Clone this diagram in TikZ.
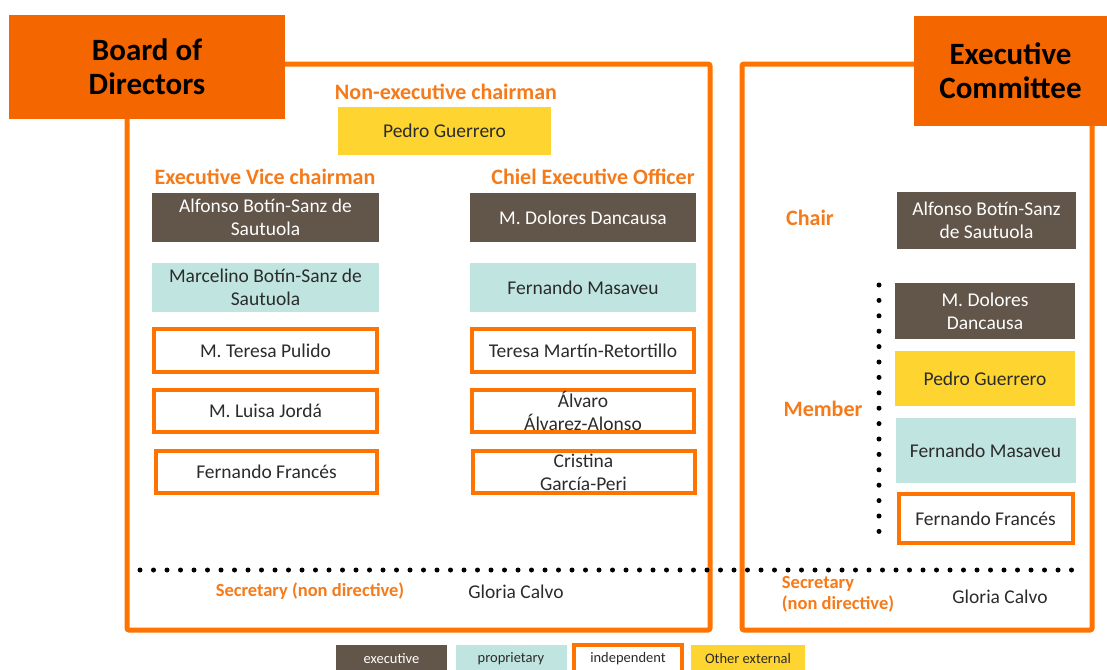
\documentclass[tikz,border=0pt]{standalone}
\usepackage{fontspec}
\setmainfont{Carlito}
\definecolor{hdorange}{HTML}{F46700}
\definecolor{frameorange}{HTML}{FF7300}
\definecolor{txtorange}{HTML}{F57A1A}
\definecolor{execbrown}{HTML}{625549}
\definecolor{propteal}{HTML}{C0E5E0}
\definecolor{extyellow}{HTML}{FED530}
\definecolor{nametext}{HTML}{2B2B2B}
\tikzset{
  namebox/.style={inner sep=0pt,align=center,font=\fontsize{19.5}{23}\selectfont},
  execbox/.style={namebox,fill=execbrown,text=white},
  propbox/.style={namebox,fill=propteal,text=nametext},
  extbox/.style={namebox,fill=extyellow,text=nametext},
  indepbox/.style={namebox,draw=frameorange,line width=4pt,fill=white,text=nametext},
  roletitle/.style={text=txtorange,font=\bfseries\fontsize{22}{24}\selectfont},
  sectitle/.style={text=txtorange,align=left,font=\bfseries\fontsize{18.5}{21}\selectfont},
  bodyheader/.style={fill=hdorange,inner sep=0pt,align=center,font=\bfseries\fontsize{31}{34}\selectfont},
  frame/.style={draw=frameorange,line width=5pt,rounded corners=2pt},
  legendbox/.style={inner sep=0pt,minimum width=111pt,minimum height=28pt,font=\fontsize{14.5}{16}\selectfont}
}
\begin{document}
\begin{tikzpicture}[x=1pt,y=-1pt]
  \useasboundingbox (0,0) rectangle (1107,669);
  \draw[frame] (127,64) rectangle (710,630);
  \draw[frame] (742,64) rectangle (1092,630);
  \node[bodyheader,minimum width=276pt,minimum height=104pt] (bod) at (147,67) {Board of\\Directors};
  \node[bodyheader,minimum width=193pt,minimum height=110pt] (ec) at (1010.5,71) {Executive\\Committee};

  \node[roletitle] (nonexec) at (446,92) {Non-executive chairman};
  \node[extbox,minimum width=213pt,minimum height=48pt] (pedro) at (444.5,131) {Pedro Guerrero};
  \node[roletitle] (vicech) at (265,177) {Executive Vice chairman};
  \node[roletitle] (ceo) at (593,177) {Chiel Executive Officer};

  \node[execbox,minimum width=227pt,minimum height=49pt] (alfonso) at (265.5,217.5) {Alfonso Botín-Sanz de\\Sautuola};
  \node[propbox,minimum width=227pt,minimum height=49pt] (marcelino) at (265.5,287.5) {Marcelino Botín-Sanz de\\Sautuola};
  \node[indepbox,minimum width=223pt,minimum height=43pt] (pulido) at (265.5,350.5) {M. Teresa Pulido};
  \node[indepbox,minimum width=223pt,minimum height=42pt] (jorda) at (265.5,411) {M. Luisa Jordá};
  \node[indepbox,minimum width=221pt,minimum height=42pt] (frances) at (266.5,472) {Fernando Francés};

  \node[execbox,minimum width=226pt,minimum height=49pt] (dolores) at (583,217.5) {M. Dolores Dancausa};
  \node[propbox,minimum width=226pt,minimum height=49pt] (masaveu) at (583,287.5) {Fernando Masaveu};
  \node[indepbox,minimum width=222pt,minimum height=43pt] (retortillo) at (583,350.5) {Teresa Martín-Retortillo};
  \node[indepbox,minimum width=222pt,minimum height=42pt] (alvaro) at (583,411) {Álvaro\\Álvarez-Alonso};
  \node[indepbox,minimum width=222pt,minimum height=42pt] (cristina) at (583.5,472) {Cristina\\García-Peri};

  \node[roletitle] (chair) at (810,218) {Chair};
  \node[execbox,minimum width=179pt,minimum height=57pt] (ecalfonso) at (986.5,220.5) {Alfonso Botín-Sanz\\de Sautuola};
  \node[roletitle] (member) at (823,409) {Member};
  \node[execbox,minimum width=180pt,minimum height=56pt] (ecdolores) at (985,311) {M. Dolores\\Dancausa};
  \node[extbox,minimum width=180pt,minimum height=55pt] (ecpedro) at (985,378.5) {Pedro Guerrero};
  \node[propbox,minimum width=180pt,minimum height=65pt] (ecmasaveu) at (985.5,450.5) {Fernando Masaveu};
  \node[indepbox,minimum width=174pt,minimum height=49pt] (ecfrances) at (985.5,518.5) {Fernando Francés};
  \draw[line width=5pt,line cap=round,dash pattern=on 0pt off 15.4pt] (879,285) -- (879,532);

  \draw[line width=5pt,line cap=round,dash pattern=on 0pt off 13.5pt] (140,570) -- (1085,570);
  \node[sectitle] (bodsec) at (310,591) {Secretary (non directive)};
  \node[namebox,text=nametext] (bodcalvo) at (516,592) {Gloria Calvo};
  \node[sectitle] (ecsec) at (838,594) {Secretary\\(non directive)};
  \node[namebox,text=nametext] (eccalvo) at (1000,597) {Gloria Calvo};

  \node[legendbox,fill=execbrown,text=white] (lgexec) at (391.5,659) {executive};
  \node[legendbox,fill=propteal,text=nametext] (lgprop) at (511,659) {proprietary};
  \node[legendbox,draw=frameorange,line width=3.5pt,minimum width=108pt,fill=white,text=nametext] (lgindep) at (628,659) {independent};
  \node[legendbox,fill=extyellow,minimum width=114pt,text=nametext] (lgext) at (748,659) {Other external};
\end{tikzpicture}
\end{document}
